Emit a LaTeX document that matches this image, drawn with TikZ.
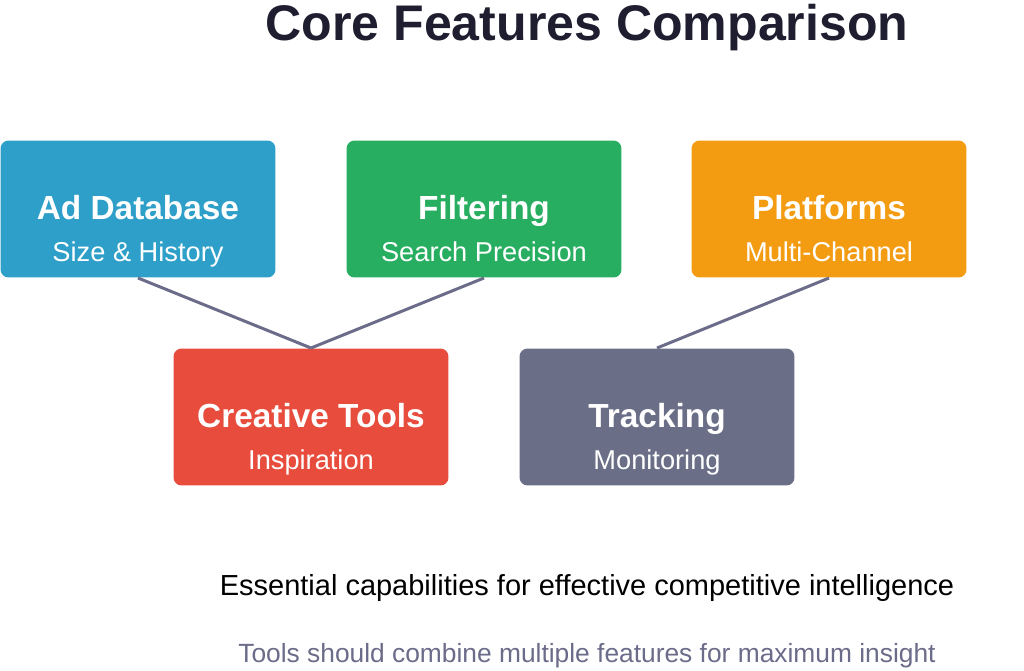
\documentclass[tikz,border=0pt]{standalone}
\usepackage{fontspec}
\setmainfont{Liberation Sans}
\begin{document}
\begin{tikzpicture}[x=0.02cm,y=-0.02cm,
  box/.style={rounded corners=0.16cm,minimum width=5.5cm,minimum height=2.74cm,inner sep=0pt,align=center,text=white},
  link/.style={draw=lk,line width=1.7pt},
  txt/.style={anchor=base,inner sep=0pt},
  ttl/.style={txt,font=\fontsize{19}{22}\selectfont\bfseries},
  sub/.style={txt,font=\fontsize{15.5}{18}\selectfont}]
\definecolor{cb}{HTML}{2D9FC8}
\definecolor{cg}{HTML}{28AE60}
\definecolor{co}{HTML}{F39C12}
\definecolor{cr}{HTML}{E74C3C}
\definecolor{cs}{HTML}{6A6F87}
\definecolor{lk}{HTML}{6B6B8A}
\definecolor{tc}{HTML}{1E1E30}
\useasboundingbox (0,0) rectangle (1024,670);
\node[txt,font=\fontsize{28.5}{32}\selectfont\bfseries,text=tc] (title) at (587,40) {Core Features Comparison};
\node[box,fill=cb] (ad) at (138,209) {};
\node[box,fill=cg] (fi) at (484,209) {};
\node[box,fill=co] (pl) at (829,209) {};
\node[box,fill=cr] (ct) at (311,417) {};
\node[box,fill=cs] (tr) at (657,417) {};
\coordinate (adb) at (138,278); \coordinate (fib) at (484,278); \coordinate (plb) at (829,278);
\coordinate (ctt) at (311,348); \coordinate (trt) at (657,348);
\draw[link] (adb) -- (ctt);
\draw[link] (fib) -- (ctt);
\draw[link] (plb) -- (trt);
\node[ttl,text=white] (adt) at (138,219) {Ad Database};
\node[sub,text=white] (ads) at (138,261) {Size \& History};
\node[ttl,text=white] (fit) at (484,219) {Filtering};
\node[sub,text=white] (fis) at (484,261) {Search Precision};
\node[ttl,text=white] (plt) at (829,219) {Platforms};
\node[sub,text=white] (pls) at (829,261) {Multi-Channel};
\node[ttl,text=white] (ctt2) at (311,427) {Creative Tools};
\node[sub,text=white] (cts) at (311,469) {Inspiration};
\node[ttl,text=white] (trt2) at (657,427) {Tracking};
\node[sub,text=white] (trs) at (657,469) {Monitoring};
\node[txt,font=\fontsize{16.5}{20}\selectfont,text=black] (ess) at (587,595) {Essential capabilities for effective competitive intelligence};
\node[txt,font=\fontsize{15}{18}\selectfont,text=lk] (tools) at (587,662) {Tools should combine multiple features for maximum insight};
\end{tikzpicture}
\end{document}
